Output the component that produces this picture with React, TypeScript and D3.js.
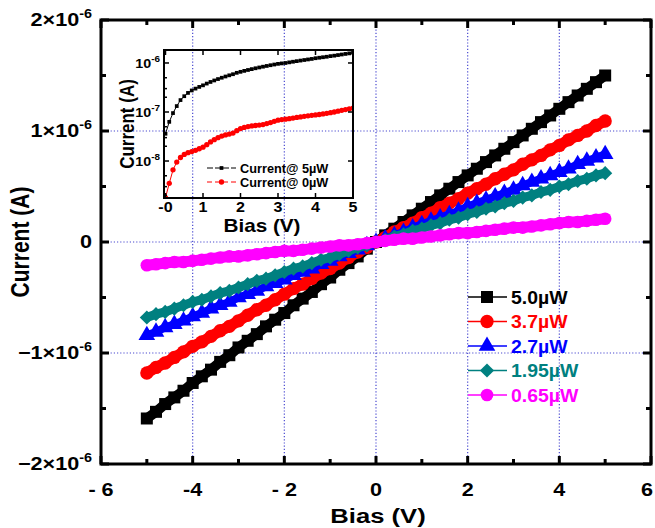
import React from "react";
import * as d3 from "d3";

// main plot: bias sweep (V) and photocurrent (µA) at each light power
const bias = [-5, -4.8, -4.6, -4.4, -4.2, -4, -3.8, -3.6, -3.4, -3.2, -3, -2.8, -2.6, -2.4, -2.2, -2, -1.8, -1.6, -1.4, -1.2, -1, -0.8, -0.6, -0.4, -0.2, 0,
  0.2, 0.4, 0.6, 0.8, 1, 1.2, 1.4, 1.6, 1.8, 2, 2.2, 2.4, 2.6, 2.8, 3, 3.2, 3.4, 3.6, 3.8, 4, 4.2, 4.4, 4.6, 4.8, 5];

const i50 = [-1.59, -1.53, -1.46, -1.40, -1.34, -1.27, -1.21, -1.15, -1.08, -1.02, -0.95, -0.89, -0.83, -0.76, -0.70, -0.64, -0.57, -0.51, -0.45, -0.38, -0.32, -0.25, -0.19, -0.13, -0.06, 0,
  0.06, 0.12, 0.18, 0.24, 0.30, 0.36, 0.42, 0.48, 0.54, 0.60, 0.66, 0.72, 0.78, 0.84, 0.90, 0.96, 1.02, 1.08, 1.14, 1.20, 1.26, 1.32, 1.38, 1.44, 1.50];
const i37 = [-1.18, -1.13, -1.09, -1.04, -0.99, -0.94, -0.90, -0.85, -0.80, -0.76, -0.71, -0.66, -0.61, -0.57, -0.52, -0.47, -0.42, -0.38, -0.33, -0.28, -0.24, -0.19, -0.14, -0.09, -0.05, 0,
  0.04, 0.09, 0.13, 0.17, 0.22, 0.26, 0.31, 0.35, 0.39, 0.44, 0.48, 0.52, 0.57, 0.61, 0.65, 0.70, 0.74, 0.78, 0.83, 0.87, 0.92, 0.96, 1.00, 1.05, 1.09];
const i27 = [-0.84, -0.81, -0.77, -0.74, -0.71, -0.67, -0.64, -0.60, -0.57, -0.54, -0.50, -0.47, -0.44, -0.40, -0.37, -0.34, -0.30, -0.27, -0.24, -0.20, -0.17, -0.13, -0.10, -0.07, -0.03, 0,
  0.03, 0.06, 0.09, 0.13, 0.16, 0.19, 0.22, 0.25, 0.28, 0.32, 0.35, 0.38, 0.41, 0.44, 0.47, 0.51, 0.54, 0.57, 0.60, 0.63, 0.66, 0.70, 0.73, 0.76, 0.79];
const i195 = [-0.68, -0.65, -0.63, -0.60, -0.57, -0.54, -0.52, -0.49, -0.46, -0.44, -0.41, -0.38, -0.35, -0.33, -0.30, -0.27, -0.24, -0.22, -0.19, -0.16, -0.14, -0.11, -0.08, -0.05, -0.03, 0,
  0.02, 0.05, 0.07, 0.10, 0.12, 0.15, 0.17, 0.20, 0.22, 0.25, 0.27, 0.30, 0.32, 0.35, 0.37, 0.40, 0.42, 0.45, 0.47, 0.50, 0.52, 0.55, 0.57, 0.60, 0.62];
const i065 = [-0.21, -0.20, -0.19, -0.18, -0.18, -0.17, -0.16, -0.15, -0.14, -0.13, -0.13, -0.12, -0.11, -0.10, -0.09, -0.08, -0.08, -0.07, -0.06, -0.05, -0.04, -0.03, -0.03, -0.02, -0.01, 0,
  0.01, 0.02, 0.03, 0.03, 0.04, 0.05, 0.06, 0.07, 0.08, 0.08, 0.09, 0.10, 0.11, 0.12, 0.13, 0.13, 0.14, 0.15, 0.16, 0.17, 0.18, 0.18, 0.19, 0.20, 0.21];

const seriesNames = ["5.0µW", "3.7µW", "2.7µW", "1.95µW", "0.65µW"];
const seriesColors = ["#000000", "#ff0000", "#0000ff", "#008080", "#ff00ff"];

// inset: log current vs bias
const insetBias = [0, 0.1, 0.2, 0.3, 0.4, 0.5, 0.6, 0.7, 0.8, 0.9, 1, 1.1, 1.2, 1.3, 1.4, 1.5, 1.6, 1.7, 1.8, 1.9, 2, 2.1, 2.2, 2.3, 2.4, 2.5,
  2.6, 2.7, 2.8, 2.9, 3, 3.1, 3.2, 3.3, 3.4, 3.5, 3.6, 3.7, 3.8, 3.9, 4, 4.1, 4.2, 4.3, 4.4, 4.5, 4.6, 4.7, 4.8, 4.9, 5];
const insetLight = [3.6e-8, 6.3e-8, 9.5e-8, 1.32e-7, 1.75e-7, 2.1e-7, 2.45e-7, 2.75e-7, 3.0e-7, 3.25e-7, 3.5e-7, 3.8e-7, 4.1e-7, 4.4e-7, 4.7e-7, 5.0e-7, 5.3e-7, 5.6e-7, 5.9e-7, 6.3e-7, 6.6e-7, 6.9e-7, 7.2e-7, 7.5e-7, 7.8e-7, 8.1e-7,
  8.4e-7, 8.7e-7, 9.0e-7, 9.3e-7, 9.6e-7, 9.8e-7, 1.0e-6, 1.03e-6, 1.06e-6, 1.09e-6, 1.12e-6, 1.15e-6, 1.18e-6, 1.21e-6, 1.25e-6, 1.28e-6, 1.31e-6, 1.34e-6, 1.38e-6, 1.41e-6, 1.45e-6, 1.49e-6, 1.53e-6, 1.57e-6, 1.62e-6];
const insetDark = [1.8e-9, 3.5e-9, 6.6e-9, 9.5e-9, 1.18e-8, 1.36e-8, 1.48e-8, 1.56e-8, 1.65e-8, 1.78e-8, 1.92e-8, 2.15e-8, 2.45e-8, 2.72e-8, 3.0e-8, 3.22e-8, 3.4e-8, 3.55e-8, 3.72e-8, 4.15e-8, 4.6e-8, 4.85e-8, 5.05e-8, 5.2e-8, 5.3e-8, 5.4e-8,
  5.55e-8, 5.8e-8, 6.1e-8, 6.45e-8, 6.8e-8, 7.0e-8, 7.15e-8, 7.3e-8, 7.5e-8, 7.75e-8, 7.95e-8, 8.15e-8, 8.35e-8, 8.55e-8, 8.7e-8, 8.9e-8, 9.15e-8, 9.4e-8, 9.7e-8, 1.0e-7, 1.04e-7, 1.08e-7, 1.12e-7, 1.16e-7, 1.2e-7];
const insetNames = ["Current@ 5µW", "Current@ 0µW"];

// tick labels
const xTicks = [-6, -4, -2, 0, 2, 4, 6];
const xTickLabels = ["- 6", "-4", "- 2", "0", "2", "4", "6"];
const xMinor = [-5, -3, -1, 1, 3, 5];
const yTicks = [2e-6, 1e-6, 0, -1e-6, -2e-6];
const yTickBase = ["2×10", "1×10", "0", "−1×10", "−2×10"];
const yTickExp = ["-6", "-6", "", "-6", "-6"];
const yMinor = [1.5e-6, 0.5e-6, -0.5e-6, -1.5e-6];
const insetXTicks = [0, 1, 2, 3, 4, 5];
const insetXLabels = ["-0", "1", "2", "3", "4", "5"];
const insetYTicks = [1e-6, 1e-7, 1e-8];
const insetYExp = ["-6", "-7", "-8"];

const FONT = "'Liberation Sans', Arial, sans-serif";

function T({ x, y, size, sx = 1.2, anchor = "middle", fill = "#000", rot = false, children }: any) {
  const tr = rot
    ? `translate(${x},${y}) rotate(-90) scale(1,${sx})`
    : `translate(${x},${y}) scale(${sx},1)`;
  return (
    <text transform={tr} fontSize={size} textAnchor={anchor} fill={fill}
      fontWeight="bold" fontFamily={FONT}>{children}</text>
  );
}

export default function App() {
  const left = 101, right = 651, top = 20, bottom = 464;
  const x = d3.scaleLinear().domain([-6, 6]).range([left, right]);
  const y = d3.scaleLinear().domain([-2e-6, 2e-6]).range([bottom, top]);

  const symbols = [
    { type: d3.symbolSquare, size: 144, rot: 0, band: 10 },
    { type: d3.symbolCircle, size: 140, rot: 0, band: 11 },
    { type: d3.symbolTriangle, size: 120, rot: 0, band: 8 },
    { type: d3.symbolSquare, size: 100, rot: 45, band: 9 },
    { type: d3.symbolCircle, size: 125, rot: 0, band: 11 },
  ];
  const allSeries = [i50, i37, i27, i195, i065];

  const line = d3.line<number>()
    .x((_, i) => x(bias[i]))
    .y(d => y(d * 1e-6));

  // inset scales
  const iL = 164, iR = 353, iT = 50, iB = 198;
  const ix = d3.scaleLinear().domain([-0.04, 5]).range([iL, iR]);
  const iy = d3.scaleLog().domain([1.76e-9, 1.84e-6]).range([iB, iT]);
  const iline = d3.line<number>().x((_, i) => ix(insetBias[i])).y(d => iy(d));
  const insetMinorY = [3e-7, 5e-7, 2e-7, 3e-8, 5e-8, 2e-8, 3e-9, 5e-9, 2e-9];

  const grid = "#4a4ad0";
  const sq = d3.symbol().type(d3.symbolSquare).size(14)()!;
  const ci = d3.symbol().type(d3.symbolCircle).size(22)()!;

  return (
    <svg width={655} height={528} style={{ position: "absolute", left: 0, top: 0, background: "#fff" }}>
      <defs>
        <clipPath id="insetClip"><rect x={iL} y={iT} width={iR - iL} height={iB - iT} /></clipPath>
        <clipPath id="mainClip"><rect x={left} y={top} width={right - left} height={bottom - top} /></clipPath>
      </defs>

      {/* dotted grid */}
      <g stroke={grid} strokeWidth={1.2} strokeDasharray="1.2,2">
        {xTicks.slice(1, -1).map(v => <line key={v} x1={x(v)} x2={x(v)} y1={top} y2={bottom} />)}
        {yTicks.slice(1, -1).map(v => <line key={v} x1={left} x2={right} y1={y(v)} y2={y(v)} />)}
      </g>

      {/* series */}
      <g clipPath="url(#mainClip)">
        {allSeries.map((s, k) => (
          <g key={k}>
            <path d={line(s)!} fill="none" stroke={seriesColors[k]} strokeWidth={symbols[k].band} />
            {s.map((v, i) => (
              <path key={i}
                transform={`translate(${x(bias[i])},${y(v * 1e-6)}) rotate(${symbols[k].rot})`}
                d={d3.symbol().type(symbols[k].type).size(symbols[k].size)()!}
                fill={seriesColors[k]} />
            ))}
          </g>
        ))}
      </g>

      {/* frame + ticks */}
      <rect x={left} y={top} width={right - left} height={bottom - top} fill="none" stroke="#000" strokeWidth={3} />
      <g stroke="#000" strokeWidth={3}>
        {xTicks.map(v => <g key={v}>
          <line x1={x(v)} x2={x(v)} y1={bottom} y2={bottom - 8} />
          <line x1={x(v)} x2={x(v)} y1={top} y2={top + 8} />
        </g>)}
        {xMinor.map(v => <g key={v}>
          <line x1={x(v)} x2={x(v)} y1={bottom} y2={bottom - 5} />
          <line x1={x(v)} x2={x(v)} y1={top} y2={top + 5} />
        </g>)}
        {yTicks.map(v => <g key={v}>
          <line x1={left} x2={left + 8} y1={y(v)} y2={y(v)} />
          <line x1={right} x2={right - 8} y1={y(v)} y2={y(v)} />
        </g>)}
        {yMinor.map(v => <g key={v}>
          <line x1={left} x2={left + 5} y1={y(v)} y2={y(v)} />
          <line x1={right} x2={right - 5} y1={y(v)} y2={y(v)} />
        </g>)}
      </g>

      {xTicks.map((v, i) => (
        <T key={v} x={i === xTicks.length - 1 ? x(v) - 4 : x(v)} y={496} size={18} sx={1.2}>{xTickLabels[i]}</T>
      ))}
      {yTicks.map((v, i) => (
        <T key={v} x={92} y={y(v) + 6} size={18} sx={1.2} anchor="end">
          {yTickBase[i]}
          {yTickExp[i] && <tspan fontSize={12} dy={-8}>{yTickExp[i]}</tspan>}
        </T>
      ))}
      <T x={378} y={523} size={21} sx={1.22}>Bias (V)</T>
      <T x={29} y={242} size={21} sx={1.2} rot>Current (A)</T>

      {/* legend */}
      {seriesNames.map((n, k) => {
        const ly = 297 + k * 24.5;
        return (
          <g key={n}>
            <line x1={468} x2={507} y1={ly} y2={ly} stroke={seriesColors[k]} strokeWidth={1.5} />
            <path transform={`translate(487,${ly}) rotate(${symbols[k].rot})`}
              d={d3.symbol().type(symbols[k].type).size(symbols[k].size)()!} fill={seriesColors[k]} />
            <T x={511} y={ly + 6.5} size={18} sx={1.08} anchor="start" fill={seriesColors[k]}>{n}</T>
          </g>
        );
      })}

      {/* inset */}
      <g clipPath="url(#insetClip)">
        <path d={iline(insetLight)!} fill="none" stroke="#000" strokeWidth={1} />
        {insetLight.map((v, i) => <path key={i} d={sq} transform={`translate(${ix(insetBias[i])},${iy(v)})`} fill="#000" />)}
        <path d={iline(insetDark)!} fill="none" stroke="#ff0000" strokeWidth={1} />
        {insetDark.map((v, i) => <path key={i} d={ci} transform={`translate(${ix(insetBias[i])},${iy(v)})`} fill="#ff0000" />)}
      </g>
      <rect x={iL} y={iT} width={iR - iL} height={iB - iT} fill="none" stroke="#000" strokeWidth={2} />
      <g stroke="#000" strokeWidth={1.5}>
        {insetXTicks.map(v => <g key={v}>
          <line x1={ix(v)} x2={ix(v)} y1={iB} y2={iB - 5} />
          <line x1={ix(v)} x2={ix(v)} y1={iT} y2={iT + 5} />
        </g>)}
        {insetYTicks.map(v => <g key={v}>
          <line x1={iL} x2={iL + 5} y1={iy(v)} y2={iy(v)} />
          <line x1={iR} x2={iR - 5} y1={iy(v)} y2={iy(v)} />
        </g>)}
        {insetMinorY.map(v => <line key={v} x1={iL} x2={iL + 3} y1={iy(v)} y2={iy(v)} />)}
      </g>
      {insetXTicks.map((v, i) => (
        <T key={v} x={ix(v)} y={212} size={14} sx={1.15}>{insetXLabels[i]}</T>
      ))}
      {insetYTicks.map((v, i) => (
        <T key={v} x={160} y={iy(v) + 5} size={13} sx={1.1} anchor="end">
          10<tspan fontSize={9} dy={-6}>{insetYExp[i]}</tspan>
        </T>
      ))}
      <T x={262} y={232} size={18} sx={1.15}>Bias (V)</T>
      <T x={134} y={124} size={17} sx={1.15} rot>Current (A)</T>

      {insetNames.map((n, k) => {
        const ly = 168 + k * 14;
        const col = k === 0 ? "#000" : "#ff0000";
        return (
          <g key={n}>
            <line x1={207} x2={236} y1={ly} y2={ly} stroke={col} strokeWidth={1} strokeDasharray={k === 0 ? "6,2" : "5,3"} />
            <path d={k === 0 ? sq : ci} transform={`translate(221.5,${ly})`} fill={col} />
            <T x={240} y={ly + 4.5} size={12.5} sx={1.02} anchor="start">{n}</T>
          </g>
        );
      })}
    </svg>
  );
}
